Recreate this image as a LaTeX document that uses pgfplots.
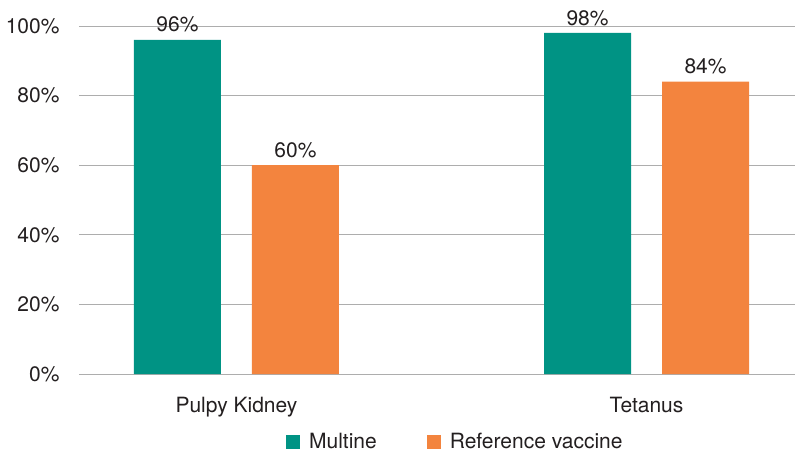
\documentclass[border=0pt]{standalone}
\usepackage{fontspec}
\setmainfont{TeX Gyre Heros}
\usepackage{pgfplots}
\pgfplotsset{compat=1.18}
\definecolor{Teal}{HTML}{009384}
\definecolor{Orng}{HTML}{F3843E}
\definecolor{GridG}{HTML}{ADADAD}
\definecolor{TxtG}{HTML}{231F20}
\newcommand{\chartfont}{\fontsize{21}{23}\selectfont}
\pgfplotsset{
    sqlegend/.style={
        legend image code/.code={\fill[##1] (0pt,-7pt) rectangle (14pt,7pt); \path (23pt,0pt);}
    }
}
\begin{document}
\begin{tikzpicture}
\begin{axis}[
    at={(0,0)}, anchor=south west,
    scale only axis,
    width=716pt, height=348pt,
    xmin=-0.384, xmax=1.362,
    ymin=0, ymax=100,
    xtick={0,1},
    xticklabels={Pulpy Kidney, Tetanus},
    ytick={0,20,40,60,80,100},
    yticklabels={0\%,20\%,40\%,60\%,80\%,100\%},
    axis line style={draw=none},
    major tick length=0pt,
    ymajorgrids,
    grid style={draw=GridG, line width=0.9pt},
    tick label style={font=\chartfont, text=TxtG},
    yticklabel style={xshift=-16pt},
    xticklabel style={yshift=-20pt},
    ybar,
    bar width=87pt,
    /pgf/number format/assume math mode=true,
    nodes near coords={\pgfmathprintnumber{\pgfplotspointmeta}\%},
    every node near coord/.append style={font=\chartfont, text=TxtG, yshift=4pt},
    legend style={
        at={(0.289,-0.195)}, anchor=west,
        draw=none, fill=none, inner sep=0pt,
        nodes={inner sep=0pt},
        font=\chartfont,
        text=TxtG,
        /tikz/every even column/.append style={column sep=50pt}
    },
    legend columns=2,
    sqlegend,
    clip=false
]
\addplot[draw=none, fill=Teal, bar shift=-59pt] coordinates {(0,96) (1,98)};
\addplot[draw=none, fill=Orng, bar shift=59pt] coordinates {(0,60) (1,84)};
\legend{Multine, Reference vaccine}
\end{axis}
\pgfresetboundingbox
\useasboundingbox (-79pt,-74pt) rectangle (716pt,374pt);
\end{tikzpicture}
\end{document}
